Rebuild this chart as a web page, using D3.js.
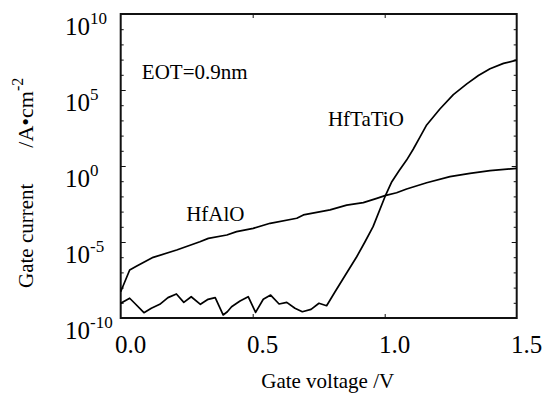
<!DOCTYPE html>
<html>
<head>
<meta charset="utf-8">
<script src="https://cdn.jsdelivr.net/npm/d3@7"></script>
<style>
  html, body { margin: 0; padding: 0; background: #fff; }
  svg { display: block; }
  text { font-family: "Liberation Serif", "Times New Roman", serif; fill: #000; }
</style>
</head>
<body>
<svg id="chart" width="542" height="394"></svg>
<script>
// ---- data (gate voltage in V, log10 of gate current density in A/cm^2) ----
const hfaloV   = [0, 0.034, 0.061, 0.123, 0.212, 0.300, 0.332, 0.402, 0.439, 0.502, 0.566, 0.667, 0.692, 0.793, 0.856, 0.919, 0.970, 1.001, 1.045, 1.083, 1.159, 1.247, 1.323, 1.399, 1.5];
const hfaloLog = [-8.27, -6.84, -6.58, -6.01, -5.53, -4.98, -4.76, -4.54, -4.32, -4.10, -3.77, -3.44, -3.22, -2.89, -2.57, -2.41, -2.13, -1.95, -1.76, -1.51, -1.10, -0.70, -0.48, -0.31, -0.15];

const hftatioV   = [0, 0.034, 0.053, 0.088, 0.116, 0.148, 0.179, 0.211, 0.239, 0.267, 0.302, 0.331, 0.358, 0.388, 0.404, 0.420, 0.452, 0.483, 0.511, 0.540, 0.568, 0.600, 0.629, 0.660, 0.688, 0.721, 0.751, 0.780, 0.812, 0.850, 0.894, 0.925, 0.956, 1.001, 1.027, 1.055, 1.083, 1.108, 1.135, 1.159, 1.209, 1.260, 1.311, 1.355, 1.399, 1.450, 1.5];
const hftatioLog = [-9.03, -8.70, -9.03, -9.65, -9.36, -9.10, -8.66, -8.42, -8.97, -8.60, -9.10, -8.77, -8.66, -9.80, -9.59, -9.26, -8.88, -8.60, -9.63, -8.77, -8.49, -9.08, -8.97, -9.36, -9.59, -9.43, -9.03, -9.19, -8.27, -7.20, -5.97, -5.00, -3.99, -2.02, -1.03, -0.30, 0.39, 1.10, 1.95, 2.70, 3.75, 4.70, 5.40, 5.95, 6.40, 6.75, 6.97];

const xTickValues = [0, 0.5, 1.0, 1.5];
const xTickLabels = ["0.0", "0.5", "1.0", "1.5"];
const xInnerTicks = [0.5, 1.0];
const yMajorExps  = [10, 5, 0, -5, -10];
const yDecadeExps = [10, 9, 8, 7, 6, 5, 4, 3, 2, 1, 0, -1, -2, -3, -4, -5, -6, -7, -8, -9, -10];

const xTitle = "Gate voltage /V";
const yTitleMain = "Gate current";
const yTitleUnit = "/A\u2022cm";
const yTitleSup = "-2";
const eotLabel = "EOT=0.9nm";
const hfaloLabel = "HfAlO";
const hftatioLabel = "HfTaTiO";

// ---- layout ----
const svg = d3.select("#chart");
const L = 120.7, R = 516.7, T = 14, B = 318;
const x = d3.scaleLinear().domain([0, 1.5]).range([L, R]);
const y = d3.scaleLog().domain([1e-10, 1e10]).range([B, T]);
const fromExp = e => Math.pow(10, e);

const axisColor = "#111";

// axes (ticks inward)
const gLeft = svg.append("g").attr("transform", `translate(${L},0)`)
  .call(d3.axisLeft(y).tickValues(yDecadeExps.map(fromExp)).tickSize(-3).tickFormat(""));
const gRight = svg.append("g").attr("transform", `translate(${R},0)`)
  .call(d3.axisRight(y).tickValues(yDecadeExps.map(fromExp)).tickSize(-3).tickFormat(""));
const gTop = svg.append("g").attr("transform", `translate(0,${T})`)
  .call(d3.axisTop(x).tickValues(xInnerTicks).tickSize(-4).tickFormat(""));
const gBottom = svg.append("g").attr("transform", `translate(0,${B})`)
  .call(d3.axisBottom(x).tickValues(xInnerTicks).tickSize(-4).tickFormat(""));

[gLeft, gRight, gTop, gBottom].forEach(g => {
  g.select(".domain").remove();
  g.selectAll("line").attr("stroke", axisColor).attr("stroke-width", 1);
});
gLeft.selectAll(".tick line").attr("x2", d => yMajorExps.includes(Math.round(Math.log10(d))) ? 5 : 3);
gRight.selectAll(".tick line").attr("x2", d => yMajorExps.includes(Math.round(Math.log10(d))) ? -5 : -3);

// frame
svg.append("rect")
  .attr("x", L).attr("y", T).attr("width", R - L).attr("height", B - T)
  .attr("fill", "none").attr("stroke", axisColor).attr("stroke-width", 2);

// x tick labels
svg.append("g").selectAll("text")
  .data(xTickValues)
  .join("text")
  .attr("x", (d) => x(d) + 10)
  .attr("y", B + 35)
  .attr("text-anchor", "middle")
  .attr("font-size", 25)
  .text((d, i) => xTickLabels[i]);

// y tick labels: 10^n
const yl = svg.append("g").selectAll("text")
  .data(yMajorExps)
  .join("text")
  .attr("x", 65)
  .attr("y", d => y(fromExp(d)) + 21)
  .attr("font-size", 25);
yl.append("tspan").text("10");
yl.append("tspan").attr("font-size", 17).attr("dy", -11).text(d => String(d));

// axis titles
svg.append("text")
  .attr("x", (L + R) / 2 + 9)
  .attr("y", 388)
  .attr("text-anchor", "middle")
  .attr("font-size", 21)
  .text(xTitle);

const yt = svg.append("text")
  .attr("transform", "translate(33,288) rotate(-90)")
  .attr("font-size", 21);
yt.append("tspan").text(yTitleMain);
yt.append("tspan").attr("dx", 36).attr("font-size", 22).text(yTitleUnit);
yt.append("tspan").attr("font-size", 16).attr("dy", -10).text(yTitleSup);

// curves
const line = d3.line()
  .x(d => x(d[0]))
  .y(d => y(fromExp(d[1])));

svg.append("path")
  .datum(hfaloV.map((v, i) => [v, hfaloLog[i]]))
  .attr("d", line)
  .attr("fill", "none").attr("stroke", "#000").attr("stroke-width", 1.7)
  .attr("stroke-linejoin", "round");

svg.append("path")
  .datum(hftatioV.map((v, i) => [v, hftatioLog[i]]))
  .attr("d", line)
  .attr("fill", "none").attr("stroke", "#000").attr("stroke-width", 1.7)
  .attr("stroke-linejoin", "round");

// annotations (placed in data coordinates)
svg.append("text").attr("x", x(0.08)).attr("y", y(fromExp(6.0)) + 4).attr("font-size", 21).text(eotLabel);
svg.append("text").attr("x", x(0.785)).attr("y", y(fromExp(2.6))).attr("font-size", 21).text(hftatioLabel);
svg.append("text").attr("x", x(0.248)).attr("y", y(fromExp(-3.6))).attr("font-size", 21).text(hfaloLabel);
</script>
</body>
</html>
